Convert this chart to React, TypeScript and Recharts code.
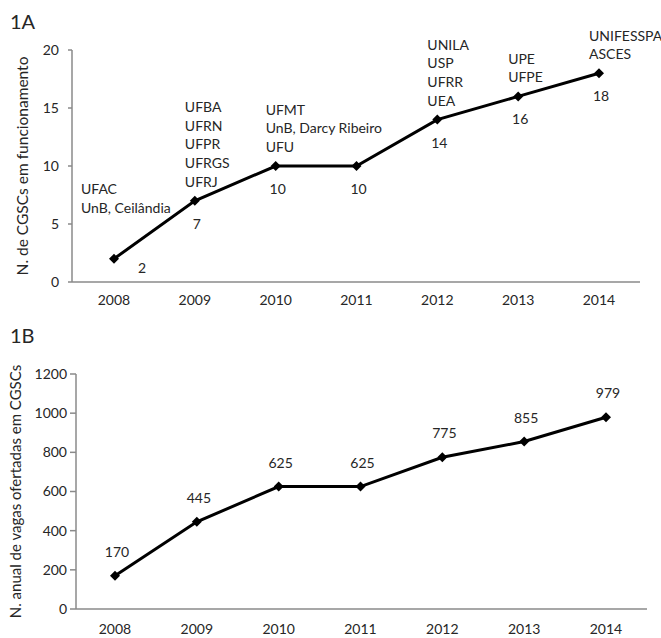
import React from "react";
import { LineChart, Line, XAxis, YAxis, LabelList, Label } from "recharts";

const YEARS = ["2008", "2009", "2010", "2011", "2012", "2013", "2014"];

// 1A: número de CGSCs em funcionamento
const CGSC_COUNT = [2, 7, 10, 10, 14, 16, 18];
const CGSC_NAMES = [
  ["UFAC", "UnB, Ceilândia"],
  ["UFBA", "UFRN", "UFPR", "UFRGS", "UFRJ"],
  ["UFMT", "UnB, Darcy Ribeiro", "UFU"],
  [],
  ["UNILA", "USP", "UFRR", "UEA"],
  ["UPE", "UFPE"],
  ["UNIFESSPA", "ASCES"],
];
const TICKS_A = [0, 5, 10, 15, 20];

// 1B: vagas anuais ofertadas
const VAGAS = [170, 445, 625, 625, 775, 855, 979];
const TICKS_B = [0, 200, 400, 600, 800, 1000, 1200];

const dataA = YEARS.map((year, i) => ({ year, n: CGSC_COUNT[i], names: CGSC_NAMES[i] }));
const dataB = YEARS.map((year, i) => ({ year, v: VAGAS[i] }));

const FONT = "Lato, 'Open Sans', sans-serif";
const AXIS = "#8a8a8a";
const TXT = "#262626";
const FS = 14;

// label nudges (the 2008 point in 1A sits apart from the rest)
const NAME_SHIFT: Record<number, [number, number]> = { 0: [-33, -51] };
const VALUE_SHIFT: Record<number, [number, number]> = { 0: [28, 9] };

const Diamond = (props: any) => {
  const { cx, cy, index } = props;
  if (cx == null || cy == null) return null;
  const r = 5;
  return (
    <path
      key={`d-${index}`}
      d={`M${cx},${cy - r}L${cx + r},${cy}L${cx},${cy + r}L${cx - r},${cy}Z`}
      fill="#000"
    />
  );
};

const NamesLabel = (props: any) => {
  const { x, y, index } = props;
  const lines: string[] = CGSC_NAMES[index] || [];
  if (!lines.length) return null;
  const [dx, dy] = NAME_SHIFT[index] ?? [-10, -19];
  const lh = 18.7;
  const top = y + dy - (lines.length - 1) * lh + 5;
  return (
    <text x={x + dx} y={top} fill={TXT} fontSize={FS} fontFamily={FONT} textAnchor="start">
      {lines.map((l, i) => (
        <tspan key={i} x={x + dx} y={top + i * lh}>
          {l}
        </tspan>
      ))}
    </text>
  );
};

const ValueBelow = (props: any) => {
  const { x, y, value, index } = props;
  const [dx, dy] = VALUE_SHIFT[index] ?? [2, 23];
  return (
    <text x={x + dx} y={y + dy + 5} fill={TXT} fontSize={FS} fontFamily={FONT} textAnchor="middle">
      {value}
    </text>
  );
};

const ValueAbove = (props: any) => {
  const { x, y, value } = props;
  return (
    <text x={x + 2} y={y - 24 + 5} fill={TXT} fontSize={FS} fontFamily={FONT} textAnchor="middle">
      {value}
    </text>
  );
};

const yTitle = (text: string, dx: number, size: number) => (props: any) => {
  const vb = props.viewBox || {};
  const cx = (vb.x ?? 0) + dx;
  const cy = (vb.y ?? 0) + (vb.height ?? 0) / 2;
  return (
    <text
      x={cx}
      y={cy}
      transform={`rotate(-90 ${cx} ${cy})`}
      textAnchor="middle"
      dominantBaseline="central"
      fill={TXT}
      fontSize={size}
      fontFamily={FONT}
    >
      {text}
    </text>
  );
};

const tickStyle = { fill: TXT, fontSize: FS, fontFamily: FONT };

export default function App() {
  return (
    <div
      style={{
        position: "absolute",
        left: 0,
        top: 0,
        width: 661,
        height: 638,
        background: "#fff",
        fontFamily: FONT,
      }}
    >
      <div style={{ position: "absolute", left: 10, top: 9, fontSize: 20, color: TXT }}>1A</div>
      <div style={{ position: "absolute", left: 10, top: 323, fontSize: 20, color: TXT }}>1B</div>

      <div style={{ position: "absolute", left: 0, top: 0 }}>
        <LineChart width={661} height={320} data={dataA} margin={{ top: 50, right: 21, bottom: 8, left: 0 }}>
          <XAxis
            dataKey="year"
            padding={{ left: 42, right: 41 }}
            axisLine={{ stroke: AXIS, strokeWidth: 1.5 }}
            tickLine={false}
            tickSize={0}
            tickMargin={13}
            tick={tickStyle}
            height={30}
            interval={0}
          />
          <YAxis
            domain={[0, 20]}
            ticks={TICKS_A}
            width={72}
            axisLine={{ stroke: AXIS, strokeWidth: 1.5 }}
            tickLine={{ stroke: AXIS, strokeWidth: 1.5 }}
            tickSize={4}
            tickMargin={9}
            tick={tickStyle}
          >
            <Label content={yTitle("N. de CGSCs em funcionamento", 22, 15.5)} />
          </YAxis>
          <Line
            dataKey="n"
            stroke="#000"
            strokeWidth={3}
            dot={<Diamond />}
            activeDot={false}
            isAnimationActive={false}
          >
            <LabelList dataKey="n" content={<ValueBelow />} />
            <LabelList dataKey="n" content={<NamesLabel />} />
          </Line>
        </LineChart>
      </div>

      <div style={{ position: "absolute", left: 0, top: 320 }}>
        <LineChart width={661} height={318} data={dataB} margin={{ top: 54, right: 14, bottom: 0, left: 0 }}>
          <XAxis
            dataKey="year"
            padding={{ left: 39, right: 41 }}
            axisLine={{ stroke: AXIS, strokeWidth: 1.5 }}
            tickLine={false}
            tickSize={0}
            tickMargin={15}
            tick={tickStyle}
            height={29}
            interval={0}
          />
          <YAxis
            domain={[0, 1200]}
            ticks={TICKS_B}
            width={76}
            axisLine={{ stroke: AXIS, strokeWidth: 1.5 }}
            tickLine={{ stroke: AXIS, strokeWidth: 1.5 }}
            tickSize={6}
            tickMargin={3}
            tick={tickStyle}
          >
            <Label content={yTitle("N. anual de vagas ofertadas em CGSCs", 15, 15)} />
          </YAxis>
          <Line
            dataKey="v"
            stroke="#000"
            strokeWidth={3}
            dot={<Diamond />}
            activeDot={false}
            isAnimationActive={false}
          >
            <LabelList dataKey="v" content={<ValueAbove />} />
          </Line>
        </LineChart>
      </div>
    </div>
  );
}
